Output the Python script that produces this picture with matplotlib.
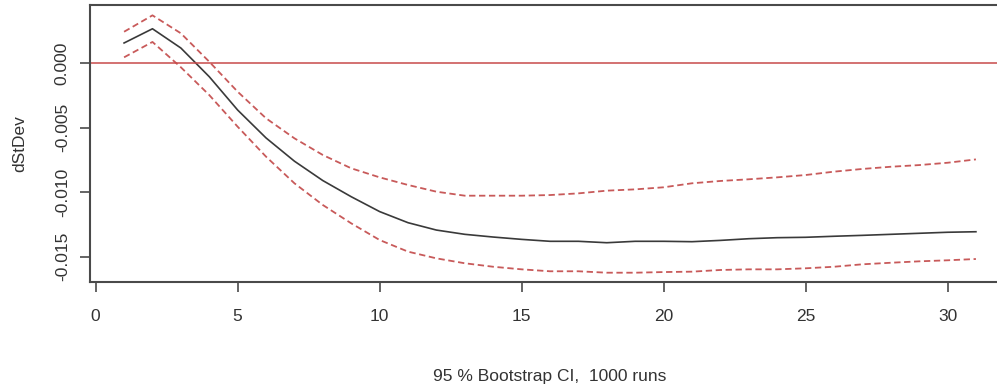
import matplotlib.pyplot as plt

# -------------------------
# Data
# -------------------------

steps = list(range(1, 32))

irf = [0.00155, 0.00265, 0.00116, -0.00106, -0.00364, -0.0058, -0.0076, -0.0091,
       -0.01035, -0.0115, -0.01236, -0.01293, -0.01326, -0.01347, -0.01365, -0.0138,
       -0.0138, -0.01391, -0.0138, -0.0138, -0.01383, -0.01373, -0.0136, -0.01352,
       -0.01349, -0.01341, -0.01334, -0.01326, -0.01318, -0.0131, -0.01306]

upper = [0.00242, 0.00369, 0.0023, 0.0001, -0.00222, -0.00428, -0.00583, -0.00712,
         -0.00815, -0.00885, -0.00944, -0.00996, -0.01027, -0.01027, -0.01027, -0.01022,
         -0.01009, -0.00988, -0.00978, -0.00962, -0.00931, -0.00913, -0.009, -0.00885,
         -0.00867, -0.00841, -0.0082, -0.00803, -0.0079, -0.00772, -0.00746]

lower = [0.00044, 0.00163, -0.00033, -0.00248, -0.00493, -0.00725, -0.00931, -0.01099,
         -0.01241, -0.0137, -0.0146, -0.01512, -0.0155, -0.01577, -0.01597, -0.01612,
         -0.01612, -0.01623, -0.01623, -0.01618, -0.01615, -0.01602, -0.01597, -0.01597,
         -0.01589, -0.01577, -0.01558, -0.01546, -0.01535, -0.01527, -0.01517]

x_ticks = [0, 5, 10, 15, 20, 25, 30]
y_ticks = [0.0, -0.005, -0.010, -0.015]
y_labels = ["0.000", "-0.005", "-0.010", "-0.015"]

# -------------------------
# Plot
# -------------------------

plt.rcParams["font.family"] = ["Liberation Sans", "DejaVu Sans"]

fig = plt.figure(figsize=(9.97, 3.89), dpi=100)
ax = fig.add_axes([90 / 997, 107 / 389, 920 / 997, 277 / 389])

ax.plot(steps, irf, color="#3a3a3a", linewidth=1.2)
ax.plot(steps, upper, color="#c85a5a", linewidth=1.3, linestyle=(0, (3.5, 2)))
ax.plot(steps, lower, color="#c85a5a", linewidth=1.3, linestyle=(0, (3.5, 2)))
ax.axhline(0, color="#c84a4a", linewidth=1.1)

ax.set_xlim(-0.2, 32.2)
ax.set_ylim(-0.01695, 0.00449)

ax.set_xticks(x_ticks)
ax.set_yticks(y_ticks)
ax.set_yticklabels(y_labels, rotation=90, va="center")

for s in ax.spines.values():
    s.set_color("#4a4a4a")
    s.set_linewidth(1.5)

ax.tick_params(axis="both", direction="out", length=7.5, width=1.2,
               color="#4a4a4a", labelsize=12.5, labelcolor="#333333")
ax.tick_params(axis="x", pad=12)
ax.tick_params(axis="y", pad=7)

ax.set_ylabel("dStDev", fontsize=12.5, color="#333333", labelpad=20)

fig.text(550 / 997, 12 / 389, "95 % Bootstrap CI,  1000 runs",
         ha="center", va="center", fontsize=12.5, color="#333333")

fig.savefig("out.png", dpi=100)
